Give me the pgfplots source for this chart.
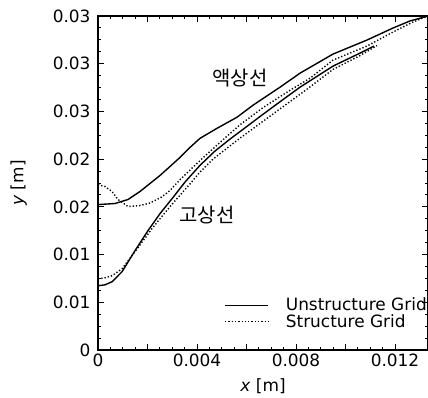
\documentclass[border=0pt]{standalone}
\usepackage{pgfplots}
\pgfplotsset{compat=1.18}
\usepackage{fontspec}
\setmainfont{DejaVu Sans}
\newfontfamily\kr{Noto Sans CJK KR}

\pgfplotstableread{
x y
0        0.01524
0.000687 0.01535
0.001212 0.01577
0.001697 0.01661
0.002101 0.01745
0.002505 0.01829
0.002909 0.01923
0.003313 0.02018
0.003717 0.02123
0.004121 0.02218
0.004808 0.02323
0.005616 0.02439
0.006263 0.02565
0.007354 0.02754
0.008162 0.02901
0.009495 0.03101
0.010869 0.03248
0.011919 0.03374
0.012606 0.03448
0.013333 0.03500
}\liqU

\pgfplotstableread{
x y
0        0.01734
0.000283 0.01713
0.000566 0.01661
0.000808 0.01577
0.001212 0.01503
0.001697 0.01514
0.002101 0.01540
0.002586 0.01605
0.002909 0.01672
0.003313 0.01785
0.003717 0.01885
0.004121 0.01985
0.004929 0.02175
0.005737 0.02360
0.006667 0.02540
0.007758 0.02722
0.008566 0.02848
0.009495 0.03038
0.010869 0.03185
0.011919 0.03332
0.012727 0.03437
0.013333 0.03500
}\liqS

\pgfplotstableread{
x y
0        0.00673
0.000283 0.00683
0.000566 0.00715
0.000970 0.00820
0.001495 0.01041
0.002020 0.01251
0.002505 0.01429
0.003030 0.01598
0.003515 0.01760
0.004121 0.01935
0.004727 0.02085
0.005333 0.02210
0.006667 0.02470
0.007636 0.02655
0.008162 0.02754
0.009495 0.02975
0.010586 0.03111
0.011152 0.03185
}\solU

\pgfplotstableread{
x y
0        0.00746
0.000283 0.00757
0.000566 0.00778
0.000970 0.00851
0.001616 0.01072
0.002182 0.01272
0.002707 0.01440
0.003192 0.01587
0.003717 0.01740
0.004121 0.01865
0.004646 0.02000
0.005737 0.02220
0.006949 0.02450
0.008444 0.02733
0.009495 0.02940
0.010586 0.03085
0.011273 0.03190
}\solS

\begin{document}
\begin{tikzpicture}
\begin{axis}[
  scale only axis,
  width=330bp, height=334bp,
  xmin=0, xmax=0.013333, ymin=0, ymax=0.035,
  xtick={0,0.002,0.004,0.006,0.008,0.010,0.012},
  xticklabels={0,,0.004,,0.008,,0.012},
  ytick={0,0.005,0.010,0.015,0.020,0.025,0.030,0.035},
  yticklabels={0,0.01,0.01,0.02,0.02,0.03,0.03,0.03},
  minor x tick num=3, minor y tick num=3,
  scaled x ticks=false, scaled y ticks=false,
  tick align=inside,
  major tick length=6bp, minor tick length=3bp,
  every tick/.style={black, line width=1pt},
  axis line style={line width=1.6pt},
  tick label style={font=\fontsize{17}{19}\selectfont},
  /pgf/number format/assume math mode=true,
  yticklabel style={xshift=-4bp},
  xlabel={\textit{x} [m]},
  ylabel={\textit{y} [m]},
  every axis x label/.style={at={(axis description cs:0.5,-0.108)},anchor=center,font=\fontsize{17}{19}\selectfont},
  every axis y label/.style={at={(axis description cs:-0.24,0.5)},rotate=90,anchor=center,font=\fontsize{17}{19}\selectfont},
  legend style={at={(axis description cs:1.012,0.051)}, anchor=south east,
    draw=none, fill=none, font=\fontsize{17}{17}\selectfont, row sep=-2bp},
  legend cell align=left,
  legend image code/.code={\draw[#1] (0bp,0bp) -- (43bp,0bp); \path (58bp,0bp);},
]
\addplot[black, line width=1.4pt] table[x=x,y=y] {\liqU};
\addlegendentry{Unstructure Grid}
\addplot[black, line width=1.4pt, dash pattern=on 1.3pt off 2pt] table[x=x,y=y] {\liqS};
\addlegendentry{Structure Grid}
\addplot[black, line width=1.4pt, forget plot] table[x=x,y=y] {\solU};
\addplot[black, line width=1.4pt, dash pattern=on 1.3pt off 2pt, forget plot] table[x=x,y=y] {\solS};
\node[font=\kr\fontsize{20}{22}\selectfont] at (axis cs:0.005737,0.02848) {액상선};
\node[font=\kr\fontsize{20}{22}\selectfont] at (axis cs:0.004404,0.01419) {고상선};
\end{axis}
\pgfresetboundingbox
\path ([shift={(-98bp,-48bp)}]current axis.south west) rectangle ([shift={(0bp,16bp)}]current axis.north east);
\end{tikzpicture}
\end{document}
